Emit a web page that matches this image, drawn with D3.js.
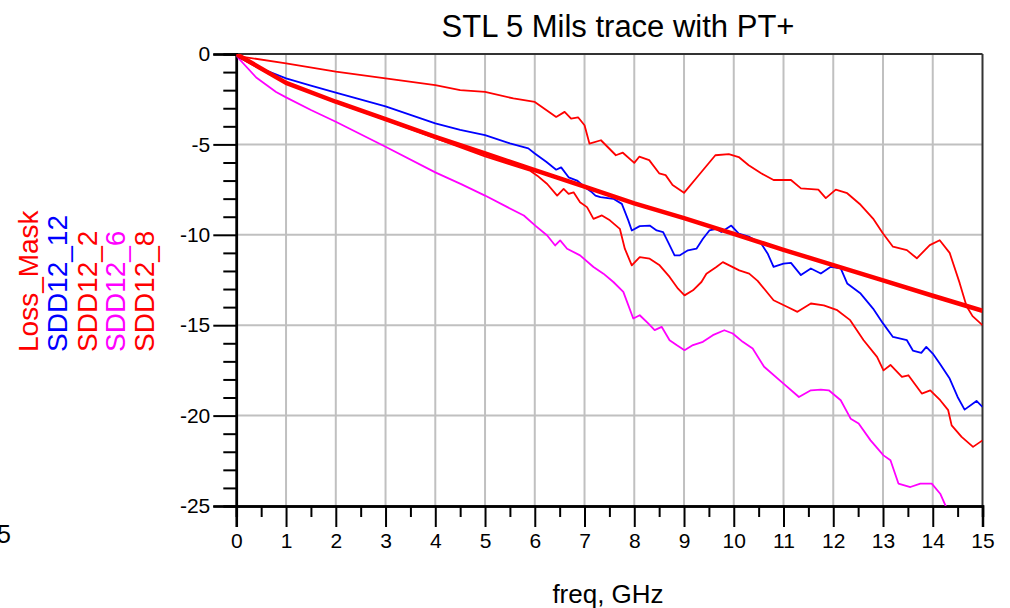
<!DOCTYPE html>
<html>
<head>
<meta charset="utf-8">
<script src="https://cdn.jsdelivr.net/npm/d3@7"></script>
<style>
  body { margin: 0; background: #fff; }
  svg text { font-family: "Liberation Sans", Arial, sans-serif; }
</style>
</head>
<body>
<div id="chart"></div>
<script>
// ---- data (freq in GHz, value in dB) ----
var seriesNames = ["Loss_Mask", "SDD12_12", "SDD12_2", "SDD12_6", "SDD12_8"];
var seriesColors = ["#ff0000", "#0000ff", "#ff0000", "#ff00ff", "#ff0000"];

var maskFreq = [0, 1, 2, 3, 4, 5, 6, 7, 8, 9, 10, 11, 12, 13, 14, 15];
var maskVal  = [0, -1.6, -2.64, -3.6, -4.58, -5.5, -6.42, -7.34, -8.26, -9.08, -9.95, -10.83, -11.68, -12.52, -13.37, -14.2];

var sdd12Freq = [0, 0.5, 1, 1.5, 2, 3, 4, 4.5, 5, 5.5, 5.87, 6, 6.23, 6.43, 6.53, 6.68, 6.85, 7.05, 7.15, 7.22, 7.32, 7.58, 7.75, 7.88, 7.95,
  8.11, 8.31, 8.45, 8.58, 8.68, 8.81, 8.91, 9.08, 9.25, 9.38, 9.51, 9.65, 9.75, 9.95, 10.1, 10.3, 10.55, 10.68, 10.8, 11.0, 11.15,
  11.35, 11.55, 11.75, 11.95, 12.15, 12.28, 12.55, 12.8, 13.0, 13.2, 13.48, 13.6, 13.77, 13.87, 14.0, 14.14, 14.34, 14.5, 14.64, 14.88, 15];
var sdd12Val = [-0.1, -0.8, -1.35, -1.75, -2.14, -2.9, -3.84, -4.2, -4.49, -4.94, -5.22, -5.5, -5.96, -6.4, -6.27, -6.82, -7.0, -7.46, -7.65, -7.83, -7.92, -8.01, -8.29, -9.2, -9.76,
  -9.52, -9.49, -9.76, -9.85, -10.4, -11.14, -11.14, -10.86, -10.77, -10.22, -9.76, -9.67, -9.85, -9.49, -9.94, -10.1, -10.48, -11.03, -11.77, -11.6, -11.55,
  -12.23, -11.86, -12.14, -11.77, -11.86, -12.69, -13.25, -14.08, -14.9, -15.65, -15.83, -16.4, -16.53, -16.2, -16.57, -17.12, -17.95, -18.97, -19.67, -19.19, -19.52];

var sdd2Freq = [0, 1, 2, 3, 4, 4.5, 5, 5.57, 6, 6.23, 6.43, 6.6, 6.73, 6.87, 7, 7.1, 7.33, 7.63, 7.77, 8, 8.1, 8.3, 8.5, 8.63, 8.77, 9,
  9.27, 9.63, 9.9, 10.1, 10.3, 10.55, 10.8, 11.15, 11.35, 11.7, 11.85, 12.05, 12.28, 12.55, 12.8, 13.0, 13.2, 13.48, 13.68, 13.94,
  14.14, 14.34, 14.54, 14.68, 14.8, 15];
var sdd2Val = [-0.1, -0.52, -0.98, -1.35, -1.72, -2.0, -2.09, -2.46, -2.65, -3.1, -3.48, -3.2, -3.57, -3.5, -3.94, -4.96, -4.77, -5.6, -5.46, -6.02, -5.68, -5.87, -6.6, -6.7, -7.25, -7.68,
  -6.79, -5.6, -5.54, -5.7, -6.15, -6.6, -6.97, -6.97, -7.43, -7.5, -7.97, -7.5, -7.7, -8.34, -9.1, -9.93, -10.66, -10.85, -11.3, -10.57,
  -10.3, -11.0, -12.66, -13.95, -14.5, -15.0];

var sdd6Freq = [0, 0.4, 0.8, 1, 1.5, 2, 3, 4, 4.52, 5, 5.45, 5.78, 6.01, 6.25, 6.41, 6.51, 6.65, 6.91, 7.18, 7.38, 7.58, 7.78, 7.98,
  8.11, 8.28, 8.41, 8.55, 8.71, 8.85, 9.01, 9.18, 9.38, 9.58, 9.81, 9.98, 10.18, 10.38, 10.61, 11.0, 11.31, 11.55, 11.75, 11.91,
  12.15, 12.35, 12.51, 12.75, 13.01, 13.15, 13.31, 13.55, 13.75, 13.98, 14.15, 14.27];
var sdd6Val = [-0.1, -1.3, -2.1, -2.4, -3.1, -3.75, -5.13, -6.55, -7.2, -7.83, -8.47, -8.93, -9.49, -10.04, -10.59, -10.31, -10.77, -11.14, -11.78, -12.15, -12.61, -13.16, -14.63,
  -14.45, -14.9, -15.27, -15.09, -15.83, -16.1, -16.38, -16.1, -15.92, -15.55, -15.28, -15.46, -15.92, -16.29, -17.3, -18.23, -18.97, -18.6, -18.56, -18.6,
  -19.15, -20.17, -20.44, -21.37, -22.2, -22.47, -23.76, -23.95, -23.76, -23.76, -24.32, -25.06];

var sdd8Freq = [0, 1, 2, 3, 4, 5, 5.5, 5.9, 6.05, 6.25, 6.45, 6.58, 6.68, 6.78, 6.91, 7.05, 7.18, 7.35, 7.51, 7.71, 7.81, 7.95,
  8.11, 8.31, 8.51, 8.71, 8.88, 9.01, 9.18, 9.35, 9.45, 9.65, 9.78, 9.91, 10.11, 10.31, 10.48, 10.8, 11.08, 11.28, 11.55, 11.81,
  12.08, 12.34, 12.61, 12.88, 13.01, 13.15, 13.38, 13.51, 13.78, 13.95, 14.15, 14.31, 14.38, 14.58, 14.81, 15];
var sdd8Val = [-0.1, -1.62, -2.68, -3.65, -4.65, -5.66, -6.1, -6.45, -6.73, -7.19, -7.83, -7.46, -7.74, -7.65, -8.2, -8.47, -9.12, -8.93, -9.2, -9.67, -10.77, -11.69,
  -11.23, -11.32, -11.69, -12.33, -12.98, -13.35, -13.07, -12.61, -12.15, -11.78, -11.51, -11.69, -11.97, -12.15, -12.55, -13.62, -13.99, -14.26, -13.8, -13.9,
  -14.17, -14.72, -15.83, -16.75, -17.5, -17.2, -17.86, -17.77, -18.78, -18.6, -19.15, -19.7, -20.54, -21.18, -21.73, -21.37];

var xTicks = [0, 1, 2, 3, 4, 5, 6, 7, 8, 9, 10, 11, 12, 13, 14, 15];
var yTicks = [0, -5, -10, -15, -20, -25];

// ---- layout ----
var width = 1010, height = 608;
// note: "top" is a reserved window property, so use plot* names
var plotLeft = 236.3, plotRight = 982.5, plotTop = 54, plotBottom = 506;

var svg = d3.select("#chart").append("svg")
  .attr("width", width)
  .attr("height", height);

var x = d3.scaleLinear().domain([0, 15]).range([plotLeft, plotRight]);
var y = d3.scaleLinear().domain([-25, 0]).range([plotBottom, plotTop]);

// grid
svg.append("g").selectAll("line")
  .data(xTicks.slice(1, -1))
  .enter().append("line")
  .attr("x1", function(d) { return x(d); })
  .attr("x2", function(d) { return x(d); })
  .attr("y1", plotTop).attr("y2", plotBottom)
  .attr("stroke", "#c0c0c0").attr("stroke-width", 2);

svg.append("g").selectAll("line")
  .data(yTicks.slice(1, -1))
  .enter().append("line")
  .attr("y1", function(d) { return y(d); })
  .attr("y2", function(d) { return y(d); })
  .attr("x1", plotLeft).attr("x2", plotRight)
  .attr("stroke", "#c0c0c0").attr("stroke-width", 2);

// frame top/right
svg.append("line").attr("x1", plotLeft).attr("x2", plotRight).attr("y1", plotTop).attr("y2", plotTop)
  .attr("stroke", "#333").attr("stroke-width", 2);
svg.append("line").attr("x1", plotRight).attr("x2", plotRight).attr("y1", plotTop).attr("y2", plotBottom)
  .attr("stroke", "#333").attr("stroke-width", 2);

// axes with d3 axis generators (plain hyphen minus, like the original)
var plainNum = function(d) { return String(d); };
var xAxis = d3.axisBottom(x).tickValues(xTicks).tickSize(21).tickPadding(6).tickFormat(plainNum);
var xMinor = d3.axisBottom(x).tickValues(d3.range(0.5, 15, 1)).tickSize(11).tickFormat("");
var yAxis = d3.axisLeft(y).tickValues(yTicks).tickSize(23).tickPadding(3).tickFormat(plainNum);
var yMinor = d3.axisLeft(y).tickValues(d3.range(-24, 0, 1).filter(function(v) { return v % 5 !== 0; })).tickSize(13).tickFormat("");

function styleAxis(g) {
  g.attr("font-size", null).attr("font-family", null);
  g.select(".domain").attr("stroke", "#000").attr("stroke-width", 2.5);
  g.selectAll(".tick line").attr("stroke", "#000").attr("stroke-width", 2);
  g.selectAll(".tick text").attr("fill", "#000").style("font-size", "21px");
}

svg.append("g").attr("transform", "translate(0," + plotBottom + ")").call(xMinor).call(styleAxis);
svg.append("g").attr("transform", "translate(0," + plotBottom + ")").call(xAxis).call(styleAxis);
svg.append("g").attr("transform", "translate(" + plotLeft + ",0)").call(yMinor).call(styleAxis);
svg.append("g").attr("transform", "translate(" + plotLeft + ",0)").call(yAxis).call(styleAxis);

// curves
svg.append("clipPath").attr("id", "plotclip")
  .append("rect").attr("x", plotLeft).attr("y", plotTop)
  .attr("width", plotRight - plotLeft).attr("height", plotBottom - plotTop);

function zipSeries(fs, vs) {
  return fs.map(function(f, i) { return [f, vs[i]]; });
}

var line = d3.line()
  .x(function(d) { return x(d[0]); })
  .y(function(d) { return y(d[1]); });

var curves = [
  { data: zipSeries(sdd6Freq, sdd6Val), color: seriesColors[3], w: 1.8 },
  { data: zipSeries(sdd8Freq, sdd8Val), color: seriesColors[4], w: 1.8 },
  { data: zipSeries(sdd2Freq, sdd2Val), color: seriesColors[2], w: 1.8 },
  { data: zipSeries(sdd12Freq, sdd12Val), color: seriesColors[1], w: 1.8 },
  { data: zipSeries(maskFreq, maskVal), color: seriesColors[0], w: 4.5 }
];

svg.append("g").attr("clip-path", "url(#plotclip)")
  .selectAll("path")
  .data(curves)
  .enter().append("path")
  .attr("d", function(d) { return line(d.data); })
  .attr("fill", "none")
  .attr("stroke", function(d) { return d.color; })
  .attr("stroke-width", function(d) { return d.w; })
  .attr("stroke-linejoin", "round");

// title and x label
svg.append("text")
  .attr("x", 618).attr("y", 37)
  .attr("text-anchor", "middle")
  .style("font-size", "31px")
  .text("STL 5 Mils trace with PT+");

svg.append("text")
  .attr("x", 608).attr("y", 603)
  .attr("text-anchor", "middle")
  .style("font-size", "26px")
  .text("freq, GHz");

// stray label cut at left edge
svg.append("text")
  .attr("x", 11).attr("y", 543)
  .attr("text-anchor", "end")
  .style("font-size", "25px")
  .text("5");

// vertical legend
var legendX = [38, 67, 97, 125, 154];
svg.append("g").selectAll("text")
  .data(seriesNames)
  .enter().append("text")
  .attr("transform", function(d, i) { return "translate(" + legendX[i] + ",352) rotate(-90)"; })
  .attr("fill", function(d, i) { return seriesColors[i]; })
  .style("font-size", "28px")
  .text(function(d) { return d; });
</script>
</body>
</html>
